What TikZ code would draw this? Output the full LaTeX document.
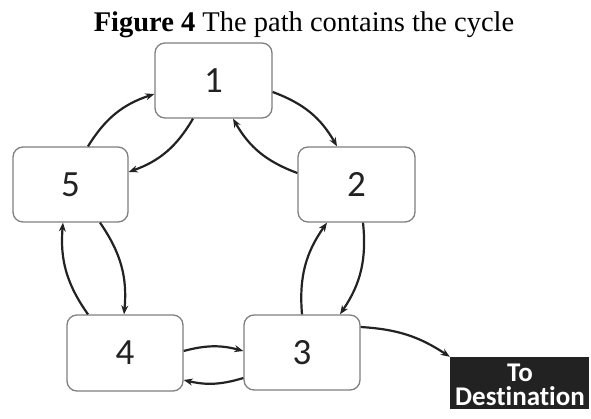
\documentclass[tikz,border=0pt]{standalone}
\usepackage{fontspec}
\setmainfont{Liberation Serif}
\newfontfamily\calib{Carlito}[Ligatures=NoCommon]
\usetikzlibrary{arrows.meta}
\definecolor{boxgray}{HTML}{7F7F7F}
\definecolor{inkdark}{HTML}{222222}
\tikzset{
  numbox/.style={draw=boxgray, line width=1.3pt, rounded corners=10pt, fill=white,
    inner sep=0pt, text=inkdark, font=\calib\fontsize{37}{40}\selectfont},
  destbox/.style={fill=inkdark, draw=none, inner sep=0pt},
  destlabel/.style={inner sep=0pt, text=white, anchor=base,
    font=\calib\bfseries\fontsize{27}{24}\selectfont},
  link/.style={draw=inkdark, line width=2.2pt, -{Stealth[length=9pt,width=7pt]}},
}
\begin{document}
\begin{tikzpicture}[x=1pt,y=-1pt]
\useasboundingbox (0,0) rectangle (591,419);
\node[anchor=base, font=\fontsize{28.5}{32}\selectfont, text=black] (title) at (304,32) {\textbf{Figure 4} The path contains the cycle};
\node[numbox, minimum width=117pt, minimum height=75pt] (b1) at (213.5,80.5) {1};
\node[numbox, minimum width=117pt, minimum height=75pt] (b2) at (356.5,184.5) {2};
\node[numbox, minimum width=115pt, minimum height=75pt] (b5) at (70.5,184.5) {5};
\node[numbox, minimum width=116pt, minimum height=76pt] (b4) at (125,353) {4};
\node[numbox, minimum width=116pt, minimum height=75pt] (b3) at (302,352.5) {3};
\node[destbox, minimum width=139pt, minimum height=52pt] (dest) at (519.5,383) {};
\node[destlabel] (destto) at (520,381) {To};
\node[destlabel] (destword) at (520,405) {Destination};
% 1 <-> 2
\draw[link] ([yshift=-11.5pt]b1.east) to[bend left=20] ([xshift=-19.5pt]b2.north);
\draw[link] ([yshift=11.5pt]b2.west) to[bend left=20] ([xshift=19.5pt]b1.south);
% 1 <-> 5
\draw[link] ([xshift=-20.5pt]b1.south) to[bend left=20] ([yshift=12.5pt]b5.east);
\draw[link] ([xshift=17.5pt]b5.north) to[bend left=20] ([yshift=-13.5pt]b1.west);
% 5 <-> 4
\draw[link] ([xshift=-37pt]b4.north) to[bend left=20] ([xshift=-7.5pt]b5.south);
\draw[link] ([xshift=29.5pt]b5.south) to[bend left=20] ([xshift=-1pt]b4.north);
% 4 <-> 3
\draw[link] ([yshift=2pt]b4.east) to[bend left=15] ([yshift=1.5pt]b3.west);
\draw[link] ([yshift=-25.5pt]b3.west) to[bend left=15] ([yshift=-27pt]b4.east);
% 3 <-> 2
\draw[link] (b3.north) to[bend left=20] ([xshift=-29.5pt]b2.south);
\draw[link] ([xshift=6.5pt]b2.south) to[bend left=20] ([xshift=38pt]b3.north);
% 3 -> destination
\draw[link] ([yshift=25.5pt]b3.east) to[bend left=15] (dest.north west);
\end{tikzpicture}
\end{document}
